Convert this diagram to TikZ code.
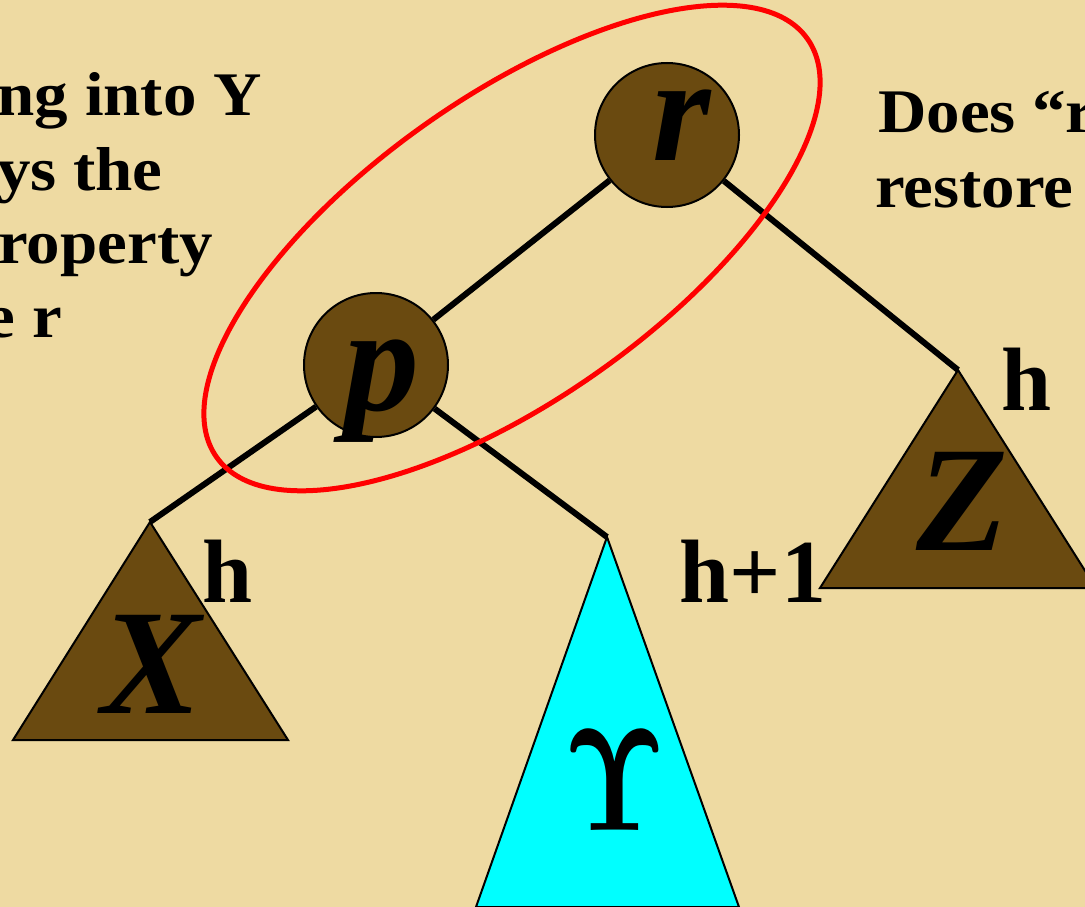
\documentclass[tikz,border=0pt]{standalone}
\usepackage[no-math]{fontspec}
\setmainfont{Liberation Serif}
\newfontfamily\bodyfont{Liberation Serif}[FakeStretch=1.08]
\definecolor{parch}{RGB}{238,218,162}
\definecolor{nodebrown}{RGB}{106,74,16}
\definecolor{cyantri}{RGB}{0,255,255}
\definecolor{ringred}{RGB}{255,0,0}
\tikzset{
  treenode/.style={circle, draw=black, line width=2pt, fill=nodebrown, minimum size=144, inner sep=0pt},
  tree/.style={draw=black, line width=2pt},
  conn/.style={draw=black, line width=6pt},
  letter/.style={inner sep=0pt, anchor=base, font=\fontsize{150}{150}\selectfont\bfseries\itshape},
  hlabel/.style={inner sep=0pt, anchor=base, font=\fontsize{90}{90}\selectfont\bfseries},
  bodytext/.style={inner sep=0pt, font=\bodyfont\fontsize{62}{74}\selectfont\bfseries}
}
\begin{document}
\begin{tikzpicture}[x=1pt,y=-1pt]
\useasboundingbox (0,0) rectangle (1085,907);
\clip (0,0) rectangle (1085,907);
\fill[parch] (0,0) rectangle (1085,907);

% subtrees
\coordinate (Xa) at (150,522);
\coordinate (Ya) at (607,537);
\coordinate (Za) at (958,370);
\filldraw[tree, fill=nodebrown] (Xa) -- (13,740) -- (288,740) -- cycle;
\filldraw[tree, fill=cyantri] (Ya) -- (476,907) -- (739,907) -- cycle;
\filldraw[tree, fill=nodebrown] (Za) -- (820,588) -- (1096,588) -- cycle;

% nodes
\node[treenode] (r) at (667,135) {};
\node[treenode] (p) at (376,365) {};

% connectors
\draw[conn] (r) -- (p);
\draw[conn] (r) -- (Za);
\draw[conn] (p) -- (Xa);
\draw[conn] (p) -- (Ya);

% letters
\node[letter] (rl) at (682,160) {r};
\node[letter] (pl) at (382,410) {p};
\node[letter] (xl) at (152,713) {X};
\node[letter] (zl) at (962,550) {Z};
\node[inner sep=0pt, anchor=base] (yl) at (615,830) {\scalebox{11.5}[14.6]{$\mathbf{\Upsilon}$}};

% height labels
\node[hlabel] (hx) at (228,602) {h};
\node[hlabel] (hy) at (753,602) {h+1};
\node[hlabel] (hz) at (1027,410) {h};

% red ellipse
\draw[ringred, line width=5pt, rotate around={35.3:(512,248)}] (512,248) ellipse [x radius=362, y radius=151];

% texts
\node[bodytext, anchor=base east] (t1) at (262,115) {ng into Y};
\node[bodytext, anchor=base east] (t2) at (163,190) {ys the};
\node[bodytext, anchor=base east] (t3) at (213,263) {roperty};
\node[bodytext, anchor=base east] (t4) at (62,337) {e r};
\node[bodytext, anchor=base west] (t5) at (878,132) {Does “r};
\node[bodytext, anchor=base west] (t6) at (875,207) {restore};
\end{tikzpicture}
\end{document}
